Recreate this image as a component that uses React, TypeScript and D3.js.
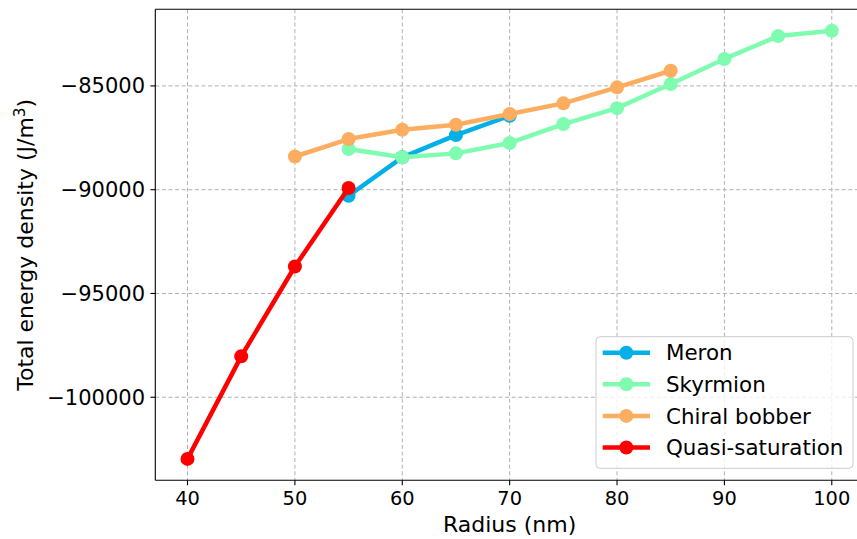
import React from "react";
import * as d3 from "d3";

const radiusQuasi = [40, 45, 50, 55];
const energyQuasi = [-102970, -98030, -93700, -89920];
const radiusMeron = [55, 60, 65, 70];
const energyMeron = [-90290, -88440, -87370, -86440];
const radiusSkyrmion = [55, 60, 65, 70, 75, 80, 85, 90, 95, 100];
const energySkyrmion = [-88040, -88440, -88250, -87750, -86840, -86070, -84910, -83700, -82600, -82340];
const radiusBobber = [50, 55, 60, 65, 70, 75, 80, 85];
const energyBobber = [-88400, -87560, -87110, -86870, -86350, -85840, -85070, -84270];
const xTicks = [40, 50, 60, 70, 80, 90, 100];
const yTicks = [-100000, -95000, -90000, -85000];

const seriesNames = ["Meron", "Skyrmion", "Chiral bobber", "Quasi-saturation"];
const seriesColors = ["#00b0e6", "#80fcb0", "#fdad60", "#ff0000"];

const W = 857;
const H = 539;
const left = 155.3;
const right = 864;
const top = 9.3;
const bottom = 480.3;
const FONT = "DejaVu Sans";
const FS_XT = 19.4;
const FS_YT = 21;
const FS_LAB = 22;
const FS_LEG = 21.4;

export default function App() {
  const series = [
    { name: seriesNames[0], color: seriesColors[0], xs: radiusMeron, ys: energyMeron },
    { name: seriesNames[1], color: seriesColors[1], xs: radiusSkyrmion, ys: energySkyrmion },
    { name: seriesNames[2], color: seriesColors[2], xs: radiusBobber, ys: energyBobber },
    { name: seriesNames[3], color: seriesColors[3], xs: radiusQuasi, ys: energyQuasi },
  ];
  const allX = series.flatMap((s) => s.xs);
  const allY = series.flatMap((s) => s.ys);
  const [x0, x1] = d3.extent(allX) as [number, number];
  const [y0, y1] = d3.extent(allY) as [number, number];
  const px = (x1 - x0) * 0.05;
  const py = (y1 - y0) * 0.05;
  const x = d3.scaleLinear().domain([x0 - px, x1 + px]).range([left, right]);
  const y = d3.scaleLinear().domain([y0 - py, y1 + py]).range([bottom, top]);

  const line = d3
    .line<[number, number]>()
    .x((d) => x(d[0]))
    .y((d) => y(d[1]));

  const fmtY = (v: number) => (v < 0 ? "\u2212" + Math.abs(v) : String(v));

  const legX = 596;
  const legY = 336.7;
  const legW = 257;
  const legH = 131.6;
  const rowY = [352.7, 384.3, 415.9, 447.5];

  return (
    <svg
      width={W}
      height={H}
      style={{ position: "absolute", left: 0, top: 0, background: "#fff" }}
      fontFamily={FONT}
    >
      <defs>
        <clipPath id="plotclip">
          <rect x={left} y={top} width={right - left} height={bottom - top} />
        </clipPath>
      </defs>
      <rect x={0} y={0} width={W} height={H} fill="#fff" />
      {/* grid */}
      <g stroke="#b0b0b0" strokeWidth={1} strokeDasharray="4,2.6">
        {xTicks.map((t) => (
          <line key={"gx" + t} x1={x(t)} x2={x(t)} y1={top} y2={bottom} />
        ))}
        {yTicks.map((t) => (
          <line key={"gy" + t} x1={left} x2={right} y1={y(t)} y2={y(t)} />
        ))}
      </g>
      {/* series */}
      <g clipPath="url(#plotclip)">
        {series.map((s) => {
          const pts = s.xs.map((v, i) => [v, s.ys[i]] as [number, number]);
          return (
            <g key={s.name}>
              <path d={line(pts) || ""} fill="none" stroke={s.color} strokeWidth={4.5} strokeLinejoin="round" />
              {pts.map((p, i) => (
                <circle key={i} cx={x(p[0])} cy={y(p[1])} r={7} fill={s.color} />
              ))}
            </g>
          );
        })}
      </g>
      {/* spines */}
      <g stroke="#000" strokeWidth={1.1} fill="none">
        <line x1={left} x2={left} y1={top} y2={bottom} />
        <line x1={left} x2={right} y1={bottom} y2={bottom} />
        <line x1={left} x2={right} y1={top} y2={top} />
        <line x1={right} x2={right} y1={top} y2={bottom} />
      </g>
      {/* x ticks */}
      <g>
        {xTicks.map((t) => (
          <g key={"xt" + t}>
            <line x1={x(t)} x2={x(t)} y1={bottom} y2={bottom + 4.9} stroke="#000" strokeWidth={1.1} />
            <text x={x(t)} y={bottom + 24.5} textAnchor="middle" fontSize={FS_XT} fill="#000">
              {t}
            </text>
          </g>
        ))}
      </g>
      {/* y ticks */}
      <g>
        {yTicks.map((t) => (
          <g key={"yt" + t}>
            <line x1={left - 4.9} x2={left} y1={y(t)} y2={y(t)} stroke="#000" strokeWidth={1.1} />
            <text
              x={left - 10.3}
              y={y(t)}
              dy="0.36em"
              textAnchor="end"
              fontSize={FS_YT}
              fill="#000"
            >
              {fmtY(t)}
            </text>
          </g>
        ))}
      </g>
      {/* axis labels */}
      <text x={(left + right) / 2} y={532} textAnchor="middle" fontSize={FS_LAB} fill="#000">
        Radius (nm)
      </text>
      <text
        transform={`translate(${32.5}, ${(top + bottom) / 2}) rotate(-90)`}
        textAnchor="middle"
        fontSize={FS_LAB}
        fill="#000"
      >
        Total energy density (J/m
        <tspan dy={-8} fontSize={FS_LAB * 0.7}>3</tspan>
        <tspan dy={8}>)</tspan>
      </text>
      {/* legend */}
      <g>
        <rect
          x={legX}
          y={legY}
          width={legW}
          height={legH}
          rx={4}
          fill="#fff"
          fillOpacity={0.8}
          stroke="#cccccc"
          strokeWidth={1}
        />
        {series.map((s, i) => (
          <g key={"lg" + s.name}>
            <line x1={602.7} x2={650} y1={rowY[i]} y2={rowY[i]} stroke={s.color} strokeWidth={4.5} />
            <circle cx={626.3} cy={rowY[i]} r={7} fill={s.color} />
            <text x={666} y={rowY[i]} dy="0.36em" fontSize={FS_LEG} fill="#000">
              {s.name}
            </text>
          </g>
        ))}
      </g>
    </svg>
  );
}
